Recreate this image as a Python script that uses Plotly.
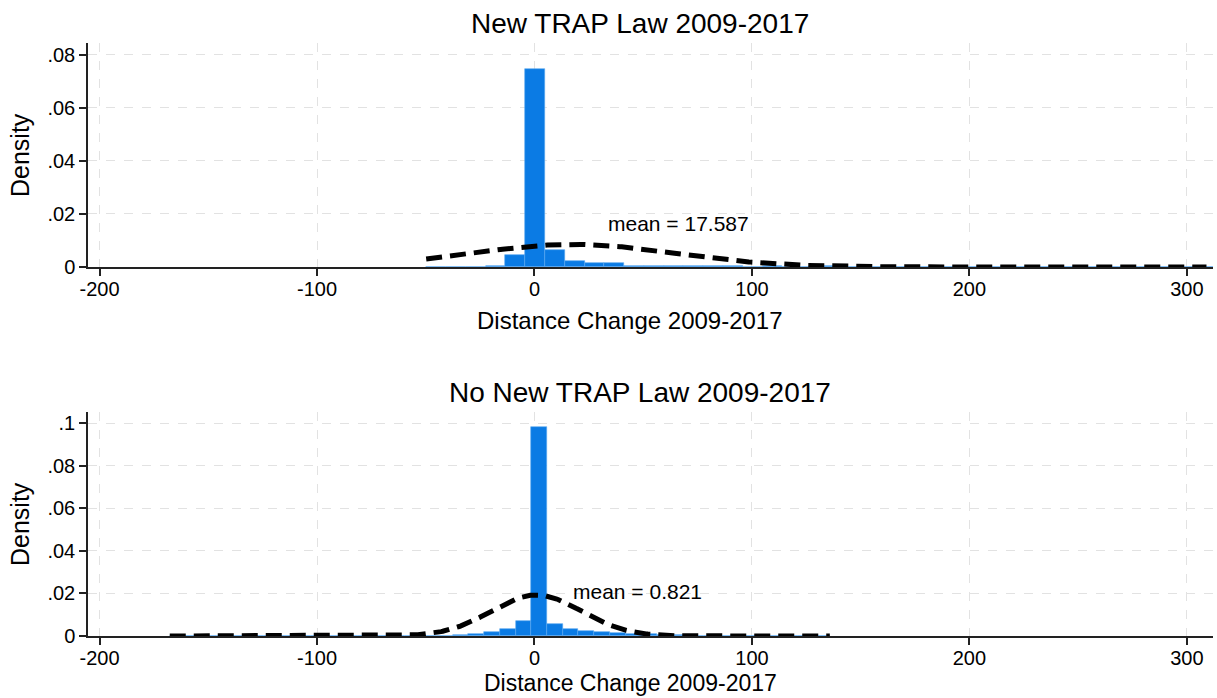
import numpy as np
import plotly.graph_objects as go

# ---- data ----
titles = ["New TRAP Law 2009-2017", "No New TRAP Law 2009-2017"]
x_title = "Distance Change 2009-2017"
y_title = "Density"

# histogram of the "New TRAP Law" group (density per bin)
top_bin_start = -49.8
top_bin_width = 9.1
top_density = [0, 0, 0, 0.0004, 0.0045, 0.0746, 0.0065, 0.0022, 0.0014, 0.0016,
               0.0005, 0.0005, 0.0004, 0.0004, 0.0003, 0.0002, 0.0001, 0.0002, 0.0001, 0.0001,
               0.0002, 0.0001, 0, 0, 0, 0, 0, 0, 0, 0,
               0, 0, 0, 0, 0, 0, 0, 0, 0, 0]
top_mean = 17.587
top_sd = 46.7
top_curve_range = (-49.8, 309.0)

# histogram of the "No New TRAP Law" group
bot_bin_start = -167.7
bot_bin_width = 7.226
bot_density = [0, 0, 0, 0, 0, 0, 0, 0, 0, 0,
               0, 0, 0, 0, 0.0001, 0.0001, 0.0002, 0.0002, 0.0004, 0.0008,
               0.0019, 0.0034, 0.0070, 0.0983, 0.0055, 0.0031, 0.0023, 0.0019, 0.0015, 0.0010,
               0.0008, 0.0005, 0.0003, 0.0002, 0.0001, 0, 0, 0, 0, 0,
               0, 0]
bot_mean = 0.821
bot_sd = 20.7
bot_curve_range = (-167.7, 135.8)

x_ticks = [-200, -100, 0, 100, 200, 300]
x_labels = ["-200", "-100", "0", "100", "200", "300"]
top_y_ticks = [0, 0.02, 0.04, 0.06, 0.08]
top_y_labels = ["0", ".02", ".04", ".06", ".08"]
bot_y_ticks = [0, 0.02, 0.04, 0.06, 0.08, 0.1]
bot_y_labels = ["0", ".02", ".04", ".06", ".08", ".1"]

# ---- layout constants (pixels) ----
W, H = 1217, 698
ML, MR = 88, 4
FONT = "Liberation Sans, Arial, Helvetica, sans-serif"
BAR_COLOR = "#0b7be4"
GRID = "#e2e2e2"


def py(px):
    """Convert a pixel row (from top) into paper y."""
    return 1 - px / H


def pxx(px):
    """Convert a pixel column into paper x (plot area spans the paper width minus margins)."""
    return (px - ML) / (W - ML - MR)


def normal_curve(mean, sd, lo, hi):
    xs = np.linspace(lo, hi, 400)
    ys = np.exp(-0.5 * ((xs - mean) / sd) ** 2) / (sd * np.sqrt(2 * np.pi))
    return xs, ys


fig = go.Figure()

panels = [
    dict(dens=top_density, start=top_bin_start, width=top_bin_width, mean=top_mean,
         sd=top_sd, rng=top_curve_range, xa="x", ya="y"),
    dict(dens=bot_density, start=bot_bin_start, width=bot_bin_width, mean=bot_mean,
         sd=bot_sd, rng=bot_curve_range, xa="x2", ya="y2"),
]

for p in panels:
    n = len(p["dens"])
    centers = [p["start"] + (i + 0.5) * p["width"] for i in range(n)]
    fig.add_trace(go.Bar(
        x=centers, y=p["dens"], width=p["width"],
        marker=dict(color=BAR_COLOR, line=dict(color="#5aa8f0", width=0.6)),
        xaxis=p["xa"], yaxis=p["ya"], showlegend=False, hoverinfo="skip",
    ))
    cx, cy = normal_curve(p["mean"], p["sd"], *p["rng"])
    fig.add_trace(go.Scatter(
        x=cx, y=cy, mode="lines",
        line=dict(color="black", width=5, dash="16px,8px"),
        xaxis=p["xa"], yaxis=p["ya"], showlegend=False, hoverinfo="skip",
    ))

axis_common = dict(
    showline=True, linecolor="#222222", linewidth=1.5,
    ticks="outside", ticklen=7, tickwidth=1.5, tickcolor="#222222",
    showgrid=True, gridcolor=GRID, gridwidth=1, griddash="dash",
    zeroline=False, automargin=False,
    tickfont=dict(family=FONT, size=20, color="black"),
)

x_range = [-205.3, 312]
top_dom = [py(267), py(43)]
bot_dom = [py(636), py(412)]

fig.update_layout(
    width=W, height=H,
    margin=dict(l=ML, r=MR, t=0, b=0),
    paper_bgcolor="white", plot_bgcolor="white",
    bargap=0,
    xaxis=dict(axis_common, domain=[0, 1], anchor="y", range=x_range,
               tickmode="array", tickvals=x_ticks, ticktext=x_labels,
               ticklabelstandoff=-4),
    yaxis=dict(axis_common, domain=top_dom, anchor="x", range=[0, 0.0845],
               tickmode="array", tickvals=top_y_ticks, ticktext=top_y_labels),
    xaxis2=dict(axis_common, domain=[0, 1], anchor="y2", range=x_range,
                tickmode="array", tickvals=x_ticks, ticktext=x_labels,
                ticklabelstandoff=-4),
    yaxis2=dict(axis_common, domain=bot_dom, anchor="x2", range=[0, 0.1052],
                tickmode="array", tickvals=bot_y_ticks, ticktext=bot_y_labels),
)

# panel titles
for text, ypx in zip(titles, [23, 392]):
    fig.add_annotation(text=text, xref="paper", yref="paper",
                       x=pxx(640), y=py(ypx),
                       xanchor="center", yanchor="middle", showarrow=False,
                       font=dict(family=FONT, size=28, color="black"))

# axis titles
fig.add_annotation(text=x_title, xref="paper", yref="paper",
                   x=pxx(630), y=py(320),
                   xanchor="center", yanchor="middle", showarrow=False,
                   font=dict(family=FONT, size=24, color="black"))
fig.add_annotation(text=x_title, xref="paper", yref="paper",
                   x=pxx(630), y=0,
                   xanchor="center", yanchor="bottom", showarrow=False,
                   font=dict(family=FONT, size=23, color="black"))
for ypx in [155, 524]:
    fig.add_annotation(text=y_title, xref="paper", yref="paper",
                       x=pxx(20), y=py(ypx), textangle=-90,
                       xanchor="center", yanchor="middle", showarrow=False,
                       font=dict(family=FONT, size=25, color="black"))

# mean labels
fig.add_annotation(text=f"mean = {top_mean}", xref="x", yref="y",
                   x=32.9, y=0.0165, xanchor="left", yanchor="middle", showarrow=False,
                   font=dict(family=FONT, size=21, color="black"))
fig.add_annotation(text=f"mean = {bot_mean}", xref="x2", yref="y2",
                   x=16.6, y=0.0207, xanchor="left", yanchor="middle", showarrow=False,
                   font=dict(family=FONT, size=21, color="black"))

fig.write_html("out.html")
